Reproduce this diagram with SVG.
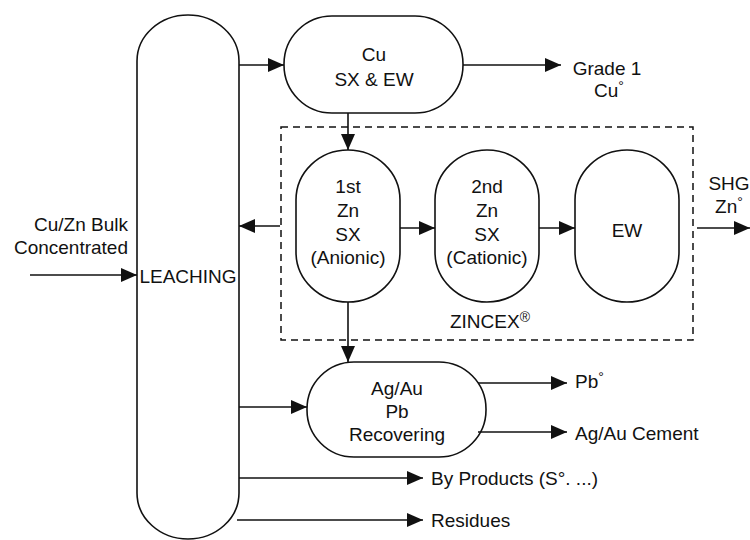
<svg xmlns="http://www.w3.org/2000/svg" width="750" height="540" viewBox="0 0 750 540">
<style>
  .box { fill: #fff; stroke: #111; stroke-width: 1.6; }
  .t { font-family: "Liberation Sans", Arial, sans-serif; font-size: 19px; fill: #111; }
  .m { text-anchor: middle; }
  .e { text-anchor: end; }
  .sup { font-size: 14px; }
  .c { stroke: #111; stroke-width: 1.6; fill: none; marker-end: url(#ah); }
</style>
<defs>
  <marker id="ah" markerUnits="userSpaceOnUse" markerWidth="16" markerHeight="14" refX="16" refY="7" orient="auto">
    <path d="M0,0 L16,7 L0,14 Z" fill="#111"/>
  </marker>
</defs>
<rect width="750" height="540" fill="#fff"/>

<g id="zincex-boundary">
  <rect x="281" y="127" width="412" height="213" fill="none" stroke="#111" stroke-width="1.5" stroke-dasharray="7 5"/>
  <text class="t m" x="490" y="328">ZINCEX<tspan class="sup" dy="-6">®</tspan></text>
</g>

<g id="leaching">
  <rect class="box" x="137" y="15" width="102" height="524" rx="51" ry="46"/>
  <text class="t m" x="188" y="283">LEACHING</text>
</g>

<g id="cu-sx-ew">
  <rect class="box" x="284" y="16" width="179" height="97" rx="48" ry="48"/>
  <text class="t m" x="374" y="61">Cu</text>
  <text class="t m" x="374" y="86">SX &amp; EW</text>
</g>

<g id="zn-sx-1">
  <rect class="box" x="296" y="150" width="104" height="152" rx="52" ry="50"/>
  <text class="t m" x="348" y="193">1st</text>
  <text class="t m" x="348" y="217">Zn</text>
  <text class="t m" x="348" y="241">SX</text>
  <text class="t m" x="348" y="264">(Anionic)</text>
</g>

<g id="zn-sx-2">
  <rect class="box" x="435" y="150" width="104" height="152" rx="52" ry="50"/>
  <text class="t m" x="487" y="193">2nd</text>
  <text class="t m" x="487" y="217">Zn</text>
  <text class="t m" x="487" y="241">SX</text>
  <text class="t m" x="487" y="264">(Cationic)</text>
</g>

<g id="ew">
  <rect class="box" x="575" y="150" width="104" height="152" rx="52" ry="50"/>
  <text class="t m" x="627" y="237">EW</text>
</g>

<g id="agau-pb">
  <rect class="box" x="307" y="362" width="179" height="95" rx="47" ry="47"/>
  <text class="t m" x="397" y="395">Ag/Au</text>
  <text class="t m" x="397" y="418">Pb</text>
  <text class="t m" x="397" y="441">Recovering</text>
</g>

<g id="labels">
  <text class="t e" x="128" y="231">Cu/Zn Bulk</text>
  <text class="t e" x="128" y="254">Concentrated</text>
  <text class="t m" x="607" y="75">Grade 1</text>
  <text class="t m" x="609" y="97">Cu<tspan class="sup" dy="-6">°</tspan></text>
  <text class="t m" x="729" y="190">SHG</text>
  <text class="t m" x="729" y="213">Zn<tspan class="sup" dy="-6">°</tspan></text>
  <text class="t" x="575" y="388">Pb<tspan class="sup" dy="-6">°</tspan></text>
  <text class="t" x="575" y="440">Ag/Au Cement</text>
  <text class="t" x="431" y="485">By Products (S°. ...)</text>
  <text class="t" x="431" y="527">Residues</text>
</g>

<g id="connectors">
  <path class="c" d="M30,275 H137"/>
  <path class="c" d="M239,65 H284"/>
  <path class="c" d="M463,65 H561"/>
  <path class="c" d="M348,113 V150"/>
  <path class="c" d="M280,226 H239"/>
  <path class="c" d="M400,228 H435"/>
  <path class="c" d="M539,228 H575"/>
  <path class="c" d="M697,228 H750"/>
  <path class="c" d="M348,302 V362"/>
  <path class="c" d="M239,407 H307"/>
  <path class="c" d="M478,383 H567"/>
  <path class="c" d="M478,432 H567"/>
  <path class="c" d="M239,478 H423"/>
  <path class="c" d="M237,520 H423"/>
</g>
</svg>
